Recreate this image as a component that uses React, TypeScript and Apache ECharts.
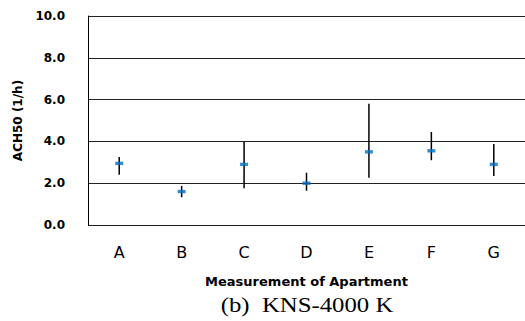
import React, { useEffect, useRef } from "react";
import * as echarts from "echarts";

const categories = ["A", "B", "C", "D", "E", "F", "G"];
const means = [2.95, 1.6, 2.9, 2.0, 3.5, 3.55, 2.9];
const lows = [2.4, 1.33, 1.76, 1.64, 2.26, 3.1, 2.34];
const highs = [3.25, 1.87, 4.0, 2.5, 5.8, 4.45, 3.88];
const yTicks = [0, 2, 4, 6, 8, 10];

export default function App() {
  const ref = useRef<HTMLDivElement>(null);
  useEffect(() => {
    if (!ref.current) return;
    const chart = echarts.init(ref.current, null, { renderer: "svg" });
    const errData = categories.map((_, i) => [i, lows[i], highs[i]]);
    chart.setOption({
      animation: false,
      backgroundColor: "#fff",
      grid: { left: 88, right: -2.6, top: 16, bottom: 96 },
      xAxis: {
        type: "category",
        data: categories,
        axisLine: { show: false },
        axisTick: { show: false },
        axisLabel: {
          margin: 19,
          fontFamily: "DejaVu Sans",
          fontSize: 16,
          color: "#000",
        },
        name: "Measurement of Apartment",
        nameLocation: "middle",
        nameGap: 50,
        nameTextStyle: {
          fontFamily: "DejaVu Sans",
          fontWeight: "bold",
          fontSize: 13,
          color: "#000",
        },
      },
      yAxis: {
        type: "value",
        min: yTicks[0],
        max: yTicks[yTicks.length - 1],
        interval: 2,
        axisLine: { show: true, lineStyle: { color: "#000", width: 1 } },
        axisTick: { show: false },
        splitLine: { show: true, lineStyle: { color: "#222", width: 1.2 } },
        axisLabel: {
          margin: 23,
          fontFamily: "DejaVu Sans",
          fontWeight: "bold",
          fontSize: 12,
          color: "#000",
          formatter: (v: number) => v.toFixed(1),
        },
        name: "ACH50 (1/h)",
        nameLocation: "middle",
        nameGap: 62,
        nameTextStyle: {
          fontFamily: "DejaVu Sans",
          fontWeight: "bold",
          fontSize: 12,
          color: "#000",
        },
      },
      graphic: [
        {
          type: "text",
          x: 307,
          y: 305,
          scaleX: 1.18,
          originX: 0,
          style: {
            text: "(b)  KNS-4000 K",
            fontFamily: "Liberation Serif",
            fontSize: 21,
            fill: "#000",
            align: "center",
            verticalAlign: "middle",
          },
        },
      ],
      series: [
        {
          type: "custom",
          data: errData,
          z: 2,
          renderItem: (params: any, api: any) => {
            const x = api.value(0);
            const p1 = api.coord([x, api.value(1)]);
            const p2 = api.coord([x, api.value(2)]);
            return {
              type: "line",
              shape: { x1: p1[0], y1: p1[1], x2: p2[0], y2: p2[1] },
              style: { stroke: "#000", lineWidth: 1.5 },
            };
          },
        },
        {
          type: "scatter",
          data: means,
          symbol: "rect",
          symbolSize: [8, 3.4],
          itemStyle: { color: "#0070C0" },
          z: 3,
        },
      ],
    });
    return () => chart.dispose();
  }, []);
  return (
    <div
      ref={ref}
      style={{ position: "fixed", left: 0, top: 0, width: 525, height: 321 }}
    />
  );
}
